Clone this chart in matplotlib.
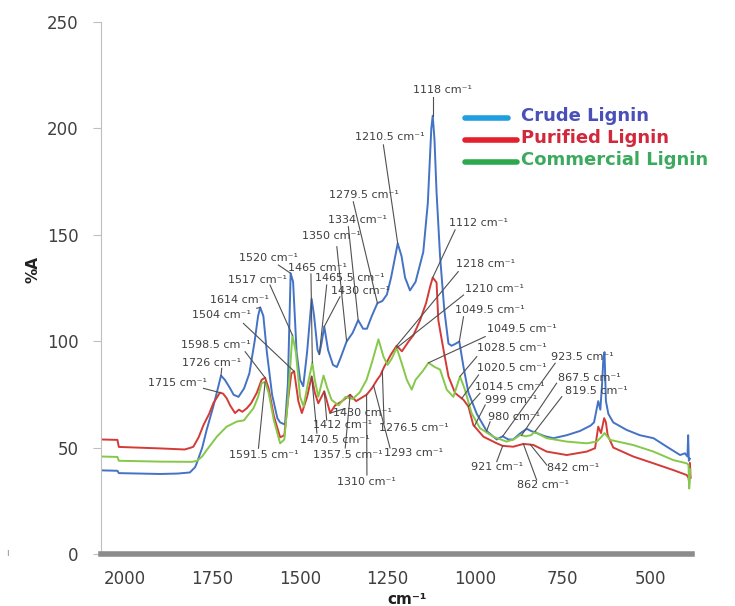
import numpy as np
import matplotlib
matplotlib.use('Agg')
from matplotlib import pyplot as plt
from matplotlib.lines import Line2D

# spectra: wavenumber (cm-1) and %A
crude_wn = [2069, 2022, 2018, 1900, 1850, 1815, 1800, 1795, 1780, 1767, 1748, 1735, 1726, 1715, 1700,
            1690, 1676, 1660, 1645, 1630, 1620, 1614, 1605, 1595, 1580, 1565, 1557, 1543, 1535, 1527,
            1520, 1510, 1500, 1491, 1480, 1467, 1460, 1450, 1445, 1438, 1431, 1420, 1406, 1395, 1385,
            1367, 1350, 1334, 1320, 1309, 1295, 1279, 1265, 1252, 1240, 1221, 1210, 1200, 1186, 1170,
            1148, 1135, 1125, 1121, 1116, 1110, 1100, 1088, 1076, 1067, 1055, 1045, 1033, 1019, 995,
            967, 938, 921, 905, 891, 870, 852, 840, 824, 800, 776, 738, 700, 670, 660,
            648, 642, 637, 633, 630, 626, 619, 605, 567, 529, 490, 452, 414, 400, 393,
            391, 389, 386]
crude_a = [39.5, 39.3, 38.2, 37.8, 38.0, 38.5, 41, 43, 50, 58.5, 69.5, 78, 84, 82, 78,
           75, 74, 78, 85, 100, 112, 116, 112, 95, 75, 64, 62, 61, 80, 132,
           128, 95, 82, 79, 95, 120, 112, 96, 94, 100, 107, 96, 89, 88, 92,
           100, 104, 110, 106, 106, 112, 118, 119, 122, 130, 146, 140, 130, 124, 128,
           142, 165, 200, 206, 195, 170, 140, 115, 99, 98, 99, 100, 88, 76, 66,
           58, 54, 55.5, 54, 54, 57, 59, 58, 57, 55.5, 54.6, 56, 58, 60.5, 62,
           72, 68, 80, 93, 95, 72, 66, 62, 58.5, 56, 54.6, 50.6, 46.7, 47.5, 46,
           56, 44, 45]

purified_wn = [2069, 2022, 2018, 1900, 1830, 1815, 1805, 1790, 1776, 1760, 1748, 1729, 1720, 1710, 1700,
               1686, 1675, 1665, 1652, 1640, 1624, 1610, 1600, 1590, 1575, 1557, 1545, 1535, 1525, 1517,
               1505, 1495, 1480, 1467, 1458, 1448, 1431, 1414, 1400, 1380, 1357, 1340, 1320, 1310, 1295,
               1280, 1271, 1260, 1240, 1224, 1209, 1190, 1176, 1157, 1140, 1128, 1121, 1110, 1105, 1090,
               1076, 1057, 1033, 1019, 1005, 976, 938, 921, 891, 862, 842, 833, 795, 738, 681,
               657, 648, 640, 631, 626, 621, 605, 548, 490, 433, 395, 390, 388, 386, 384]
purified_a = [54, 53.8, 50.5, 49.8, 49.3, 50, 50.6, 55, 60.8, 66, 71, 76, 75.5, 73.4, 70,
              66.4, 68, 67, 68.7, 71, 75.8, 82, 83, 78, 65, 55, 56, 72, 85, 86,
              72, 66.4, 74, 83.6, 76, 71, 76.6, 66.4, 70, 72, 75, 72, 74, 75, 78,
              82, 84, 88, 94, 98, 95.4, 100, 103, 110, 118, 126, 130, 127.7, 110, 96,
              83.6, 75.8, 72.6, 69.5, 60.8, 55.3, 52.2, 51, 50.6, 51.9, 51.6, 51.4, 48.3, 46.7, 48.3,
              49.9, 60, 57, 64, 62, 56, 50.2, 46, 42.8, 39.6, 37.3, 36, 33.4, 43, 36]

commercial_wn = [2069, 2022, 2018, 1900, 1810, 1795, 1780, 1767, 1738, 1710, 1681, 1660, 1652, 1633, 1620,
                 1610, 1600, 1590, 1575, 1557, 1545, 1535, 1522, 1512, 1500, 1490, 1478, 1465, 1458, 1448,
                 1433, 1422, 1410, 1390, 1370, 1350, 1330, 1310, 1295, 1276, 1262, 1250, 1238, 1224, 1210,
                 1195, 1181, 1170, 1150, 1133, 1115, 1100, 1081, 1062, 1043, 1029, 1010, 986, 948, 910,
                 890, 871, 855, 840, 829, 812, 795, 738, 681, 652, 640, 630, 620, 614, 548,
                 490, 433, 395, 390, 388, 385]
commercial_a = [46, 45.8, 44, 43.6, 43.5, 43.9, 46, 49, 55.3, 60, 62.4, 63, 64.8, 68.7, 74,
                80.5, 81, 76, 63, 52.2, 54, 72, 103, 95, 74, 69.5, 80, 90, 82, 74,
                84, 78, 72.6, 70, 74, 73, 76, 82, 90, 101, 93, 89, 92, 97, 90,
                82, 77.4, 82, 86, 90, 88, 86.8, 77.4, 74, 83.6, 77.4, 66.4, 59.3, 55.3, 53,
                54, 56.1, 55.5, 56, 57.7, 56, 54.6, 53, 52.2, 53, 55, 57, 55, 53.8, 51.4,
                48.3, 44.3, 42.8, 42, 31, 40]

series = {
    'crude': (crude_wn, crude_a),
    'purified': (purified_wn, purified_a),
    'commercial': (commercial_wn, commercial_a),
}

# peak labels: text, series, peak wavenumber
peak_labels = ['1118', '1210.5', '1279.5', '1334', '1350', '1520', '1517', '1465', '1465.5', '1430',
               '1614', '1504', '1598.5', '1726', '1715', '1591.5', '1470.5', '1412', '1430', '1357.5',
               '1310', '1293', '1276.5', '1112', '1218', '1210', '1049.5', '1049.5', '1028.5', '1020.5',
               '1014.5', '999', '980', '923.5', '867.5', '819.5', '921', '842', '862']
peak_series = ['crude', 'crude', 'crude', 'crude', 'crude', 'crude', 'commercial', 'commercial', 'crude', 'crude',
               'crude', 'purified', 'purified', 'crude', 'purified', 'commercial', 'purified', 'purified', 'purified', 'purified',
               'purified', 'purified', 'purified', 'purified', 'purified', 'commercial', 'crude', 'commercial', 'commercial', 'purified',
               'purified', 'purified', 'crude', 'crude', 'commercial', 'commercial', 'purified', 'purified', 'purified']
peak_wn = [1121, 1221, 1279, 1334, 1367, 1527, 1522, 1465, 1445, 1431,
           1614, 1517, 1600, 1726, 1729, 1600, 1467, 1431, 1414, 1357,
           1310, 1290, 1265, 1121, 1224, 1224, 1045, 1133, 1043, 1038,
           1019, 1002, 967, 921, 867, 829, 921, 842, 862]

# where each label sits and where its leader starts (layout)
label_pos = [(1094, 218), (1243, 196), (1317, 168.8), (1337, 157), (1409, 149.5), (1591, 139.2),
             (1623, 128.9), (1449, 134.5), (1357, 129.8), (1326, 123.7), (1674, 119.5), (1726, 112.4),
             (1740, 98.4), (1754, 89.9), (1851, 80.5), (1603, 46.7), (1400, 53.8), (1380, 60.8),
             (1323, 66.4), (1363, 46.7), (1309, 34), (1177, 47.7), (1174, 59.4), (991, 155.6),
             (969, 136.4), (943, 124.6), (957, 114.8), (866, 105.9), (894, 97), (894, 87.6),
             (900, 78.6), (897, 72.5), (889, 64.6), (694, 92.7), (674, 82.9), (654, 76.8),
             (937, 41.1), (720, 40.6), (806, 32.6)]
leader_start = [(1121, 214.8), (1262, 192.3), (1348, 165.6), (1362, 153.9), (1395, 144.5), (1562, 135.9),
                (1586, 126.5), (1469, 131.7), (1424, 126.5), (1386, 121), (1624, 115.6), (1662, 108.5),
                (1657, 95.2), (1724, 87.4), (1776, 78), (1619, 49.9), (1452, 57), (1424, 63.1),
                (1372, 68.5), (1371, 50), (1309, 37.3), (1243, 50), (1260, 61.7), (1057, 152.4),
                (1048, 132.8), (1033, 121.8), (1033, 111.6), (971, 102.3), (995, 92.9), (990, 84.3),
                (986, 75.7), (971, 70.2), (957, 62.3), (771, 89.8), (767, 80.4), (752, 74.1),
                (938, 43.6), (795, 42), (824, 35)]

colors = {'crude': '#4472c4', 'purified': '#d43a36', 'commercial': '#86c84a'}
text_col = '#3f3f3f'

fig = plt.figure(figsize=(7.35, 6.06), dpi=100)
ax = fig.add_axes([0.1374, 0.085, 0.8041, 0.8787])

for key in ['crude', 'purified', 'commercial']:
    wn, a = series[key]
    ax.plot(wn, a, color=colors[key], lw=1.4, zorder=2)

for i in range(len(peak_labels)):
    wn, a = series[peak_series[i]]
    # np.interp needs increasing x
    ty = np.interp(peak_wn[i], wn[::-1], a[::-1])
    sx, sy = leader_start[i]
    ax.plot([sx, peak_wn[i]], [sy, ty], color='#505050', lw=0.8, zorder=3)
    ax.text(label_pos[i][0], label_pos[i][1], peak_labels[i] + ' cm⁻¹', fontsize=8,
            color=text_col, ha='center', va='center', zorder=4)

ax.set_xlim(2069, 380)
ax.set_ylim(0, 250)
ax.set_xticks([2000, 1750, 1500, 1250, 1000, 750, 500])
ax.set_yticks([0, 50, 100, 150, 200, 250])
for s in ['top', 'right']:
    ax.spines[s].set_visible(False)
ax.spines['left'].set_color('#bfbfbf')
ax.spines['left'].set_linewidth(0.8)
ax.spines['bottom'].set_color('#8c8c8c')
ax.spines['bottom'].set_linewidth(4)
ax.tick_params(axis='x', length=0, pad=11, labelsize=12, labelcolor='#404040')
ax.tick_params(axis='y', length=6, width=0.8, color='#bfbfbf', pad=10, labelsize=12, labelcolor='#404040')

fig.text(33 / 735, 1 - 270 / 606, '%A', rotation=90, fontsize=11, fontweight='bold',
         ha='center', va='center', color='#202020')
fig.text(407 / 735, 1 - 599 / 606, 'cm⁻¹', fontsize=11, fontweight='bold',
         ha='center', va='center', color='#202020')
fig.text(8 / 735, 1 - 553 / 606, 'ı', fontsize=7, color='#909090', ha='center', va='center')

# legend drawn by hand, it sits outside the usual legend box
leg_names = ['Crude Lignin', 'Purified Lignin', 'Commercial Lignin']
leg_line = ['#1f9ee0', '#e3202c', '#2ea84e']
leg_text = ['#4b50b8', '#d2283c', '#3caa5e']
leg_y = [118, 140, 162]
leg_x_end = [508, 517, 517]
for i in range(3):
    yy = 1 - leg_y[i] / 606
    fig.add_artist(Line2D([465 / 735, leg_x_end[i] / 735], [yy, yy], color=leg_line[i], lw=4,
                          solid_capstyle='round'))
    fig.text(521 / 735, yy + 2 / 606, leg_names[i], fontsize=13, fontweight='bold',
             color=leg_text[i], ha='left', va='center')

fig.savefig('out.png', dpi=100)
